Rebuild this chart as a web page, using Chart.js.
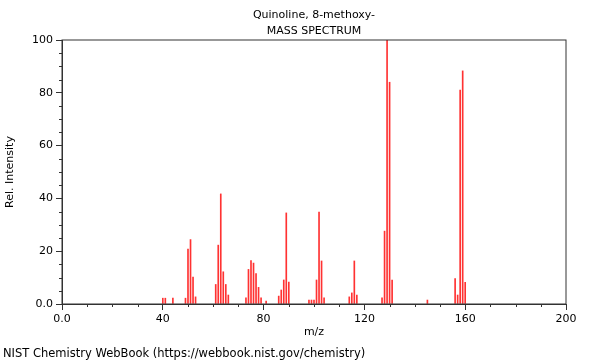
<!DOCTYPE html>
<html>
<head>
<meta charset="utf-8">
<script src="https://cdn.jsdelivr.net/npm/chart.js@4"></script>
<style>
  html, body { margin: 0; padding: 0; background: #fff; }
  #wrap { width: 600px; height: 360px; position: relative; }
</style>
</head>
<body>
<div id="wrap"><canvas id="ms" width="600" height="360"></canvas></div>
<script>
const titleLines = ['Quinoline, 8-methoxy-', 'MASS SPECTRUM'];
const footerText = 'NIST Chemistry WebBook (https://webbook.nist.gov/chemistry)';

// m/z and relative intensity
const mz = [40, 41, 44, 49, 50, 51, 52, 53, 61, 62, 63, 64, 65, 66,
  73, 74, 75, 76, 77, 78, 79, 81, 86, 87, 88, 89, 90,
  98, 99, 100, 101, 102, 103, 104, 114, 115, 116, 117,
  127, 128, 129, 130, 131, 145, 156, 157, 158, 159, 160];
const intensity = [2.2, 2.2, 2.2, 2.2, 20.8, 24.4, 10.2, 2.7, 7.4, 22.3, 41.7, 12.2, 7.4, 3.4,
  2.3, 13.1, 16.4, 15.5, 11.5, 6.3, 2.3, 1.1, 3.0, 5.3, 9.1, 34.5, 8.3,
  1.5, 1.5, 1.5, 9.1, 34.8, 16.3, 2.3, 2.7, 4.2, 16.3, 3.4,
  2.3, 27.6, 100, 84, 9.1, 1.5, 9.6, 3.4, 81, 88.3, 8.2];

const xTicks = [0, 40, 80, 120, 160, 200];
const yTicks = [0, 20, 40, 60, 80, 100];

const FONT = 'DejaVu Sans';
const AXIS = '#333';

const extras = {
  id: 'extras',
  afterDraw(chart) {
    const { ctx, chartArea: a, scales } = chart;
    ctx.save();
    // frame
    ctx.strokeStyle = AXIS;
    ctx.lineWidth = 1;
    ctx.strokeRect(a.left, a.top, a.right - a.left, a.bottom - a.top);
    // minor ticks
    ctx.beginPath();
    for (let v = 0; v <= 200; v += 10) {
      if (xTicks.includes(v)) continue;
      const px = Math.round(scales.x.getPixelForValue(v)) + 0.5;
      ctx.moveTo(px, a.bottom);
      ctx.lineTo(px, a.bottom + 3);
    }
    for (let v = 0; v <= 100; v += 5) {
      if (yTicks.includes(v)) continue;
      const py = Math.round(scales.y.getPixelForValue(v)) + 0.5;
      ctx.moveTo(a.left, py);
      ctx.lineTo(a.left - 3, py);
    }
    ctx.stroke();
    // titles
    ctx.fillStyle = '#000';
    ctx.font = '11px "' + FONT + '"';
    ctx.textAlign = 'center';
    ctx.textBaseline = 'alphabetic';
    const cx = (a.left + a.right) / 2;
    ctx.fillText(titleLines[0], cx, 17.5);
    ctx.fillText(titleLines[1], cx, 33.5);
    ctx.font = '11.5px "' + FONT + '"';
    ctx.textAlign = 'left';
    ctx.fillText(footerText, 3, 357);
    ctx.restore();
  }
};

new Chart(document.getElementById('ms'), {
  type: 'bar',
  data: {
    datasets: [{
      data: mz.map((m, i) => ({ x: m, y: intensity[i] })),
      backgroundColor: 'rgb(255,50,50)',
      barThickness: 1,
      borderWidth: 0
    }]
  },
  options: {
    responsive: false,
    animation: false,
    devicePixelRatio: 1,
    layout: { padding: { left: 0, right: 34, top: 40, bottom: 0 } },
    plugins: { legend: { display: false }, tooltip: { enabled: false }, title: { display: false } },
    scales: {
      x: {
        type: 'linear',
        min: 0, max: 200,
        offset: false,
        afterFit: s => { s.height = 56; },
        afterBuildTicks: s => { s.ticks = xTicks.map(v => ({ value: v })); },
        grid: { drawOnChartArea: false, tickLength: 6, color: AXIS, offset: false },
        border: { color: AXIS },
        ticks: {
          padding: 3,
          color: '#000',
          font: { family: FONT, size: 11 },
          maxRotation: 0,
          callback: v => v === 0 ? '0.0' : String(v)
        },
        title: { display: true, text: 'm/z', color: '#000', font: { family: FONT, size: 11 }, padding: { top: 0, bottom: 21 } }
      },
      y: {
        min: 0, max: 100,
        afterFit: s => { s.width = 62; },
        afterBuildTicks: s => { s.ticks = yTicks.map(v => ({ value: v })); },
        grid: { drawOnChartArea: false, tickLength: 6, color: AXIS },
        border: { color: AXIS },
        ticks: {
          padding: 3,
          color: '#000',
          font: { family: FONT, size: 11 },
          callback: v => v === 0 ? '0.0' : String(v)
        },
        title: { display: true, text: 'Rel. Intensity', color: '#000', font: { family: FONT, size: 11 }, padding: { top: 4, bottom: 0 } }
      }
    }
  },
  plugins: [extras]
});
</script>
</body>
</html>
